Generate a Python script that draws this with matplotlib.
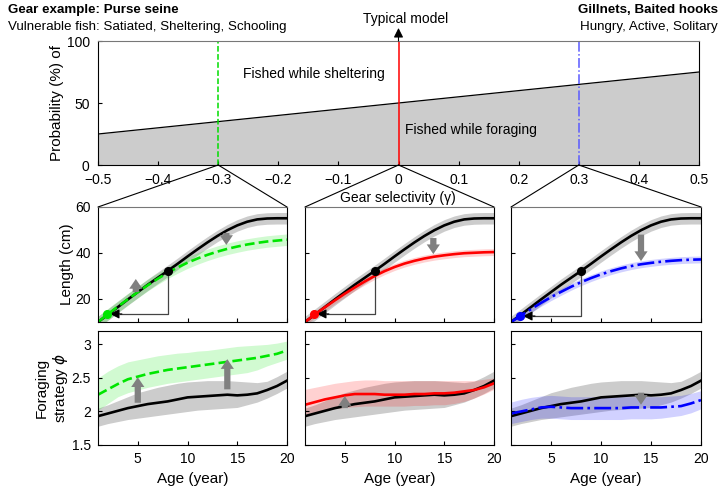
import matplotlib
matplotlib.use('Agg')
import matplotlib.pyplot as plt
from matplotlib.patches import ConnectionPatch
import numpy as np

plt.rcParams['font.family'] = ['Liberation Sans', 'DejaVu Sans']
plt.rcParams['font.size'] = 10
plt.rcParams['xtick.direction'] = 'in'
plt.rcParams['ytick.direction'] = 'in'
plt.rcParams['xtick.major.size'] = 3
plt.rcParams['ytick.major.size'] = 3
plt.rcParams['axes.linewidth'] = 0.8

# top panel: probability of being fished while foraging vs gear selectivity
gamma = [-0.5, 0.5]
p_forage = [25, 75]
gamma_ticks = [-0.5, -0.4, -0.3, -0.2, -0.1, 0, 0.1, 0.2, 0.3, 0.4, 0.5]
gamma_labels = ['\u22120.5', '\u22120.4', '\u22120.3', '\u22120.2', '\u22120.1', '0',
                '0.1', '0.2', '0.3', '0.4', '0.5']
gear_gammas = [-0.3, 0, 0.3]

# age axis for the growth / foraging panels
ages = list(range(1, 21))

# length-at-age (cm)
len_typical = [10, 13.2, 16.5, 19.8, 23, 26.2, 29.2, 32.2, 35.3, 38.5,
               41.6, 44.6, 47.4, 49.9, 52, 53.6, 54.6, 55, 55.1, 55.1]
len_seine = [10, 13.4, 16.7, 19.9, 23, 26, 28.8, 31.4, 33.7, 35.8,
             37.6, 39.2, 40.6, 41.8, 42.8, 43.7, 44.4, 45, 45.4, 45.8]
len_neutral = [10, 13.3, 16.4, 19.4, 22.3, 25, 27.6, 30, 32.1, 33.9,
               35.4, 36.6, 37.6, 38.4, 39, 39.5, 39.9, 40.1, 40.3, 40.4]
len_hooks = [10, 12.8, 15.6, 18.3, 20.8, 23.1, 25.3, 27.3, 29.1, 30.7,
             32.1, 33.3, 34.3, 35.1, 35.7, 36.2, 36.6, 36.9, 37.1, 37.2]
len_sd = [2.5, 2.5, 1.5, 1.5]

# foraging strategy phi
phi_typical = [1.93, 1.97, 2.01, 2.05, 2.08, 2.11, 2.13, 2.15, 2.18, 2.21,
               2.22, 2.23, 2.24, 2.25, 2.24, 2.25, 2.27, 2.32, 2.38, 2.46]
phi_typical_hi = [2.05, 2.1, 2.16, 2.22, 2.28, 2.32, 2.36, 2.39, 2.42, 2.44,
                  2.45, 2.46, 2.46, 2.46, 2.45, 2.44, 2.43, 2.45, 2.52, 2.6]
phi_typical_lo = [1.78, 1.82, 1.85, 1.88, 1.9, 1.92, 1.94, 1.96, 1.98, 2.0,
                  2.02, 2.03, 2.04, 2.05, 2.06, 2.1, 2.14, 2.2, 2.27, 2.35]
phi_seine = [2.25, 2.33, 2.41, 2.48, 2.52, 2.56, 2.59, 2.62, 2.64, 2.66,
             2.68, 2.7, 2.72, 2.74, 2.76, 2.78, 2.8, 2.83, 2.86, 2.91]
phi_seine_hi = [2.5, 2.6, 2.68, 2.74, 2.77, 2.8, 2.83, 2.85, 2.87, 2.88,
                2.9, 2.91, 2.93, 2.95, 2.97, 2.98, 2.99, 3.0, 3.02, 3.05]
phi_seine_lo = [2.02, 2.12, 2.22, 2.28, 2.32, 2.36, 2.39, 2.42, 2.44, 2.46,
                2.48, 2.5, 2.52, 2.54, 2.56, 2.58, 2.62, 2.68, 2.73, 2.78]
phi_neutral = [2.1, 2.14, 2.18, 2.21, 2.24, 2.26, 2.26, 2.26, 2.25, 2.25,
               2.25, 2.26, 2.26, 2.27, 2.27, 2.28, 2.3, 2.32, 2.36, 2.42]
phi_neutral_hi = [2.33, 2.36, 2.39, 2.42, 2.44, 2.46, 2.47, 2.47, 2.46, 2.46,
                  2.46, 2.46, 2.46, 2.46, 2.46, 2.46, 2.46, 2.46, 2.48, 2.5]
phi_neutral_lo = [1.96, 1.99, 2.02, 2.04, 2.06, 2.07, 2.08, 2.08, 2.08, 2.08,
                  2.08, 2.09, 2.09, 2.1, 2.1, 2.12, 2.15, 2.2, 2.26, 2.33]
phi_hooks = [1.97, 2.0, 2.03, 2.06, 2.07, 2.06, 2.05, 2.05, 2.05, 2.05,
             2.05, 2.05, 2.06, 2.06, 2.06, 2.06, 2.07, 2.08, 2.12, 2.17]
phi_hooks_hi = [2.14, 2.18, 2.21, 2.23, 2.24, 2.23, 2.22, 2.22, 2.22, 2.22,
                2.22, 2.22, 2.22, 2.22, 2.22, 2.22, 2.23, 2.24, 2.27, 2.31]
phi_hooks_lo = [1.82, 1.85, 1.88, 1.9, 1.9, 1.89, 1.88, 1.88, 1.88, 1.88,
                1.88, 1.88, 1.89, 1.89, 1.89, 1.9, 1.92, 1.94, 1.98, 2.04]

# where the fat gray arrows go: (age, from, to)
len_arrows = [[(4.8, 23, 28.7), (13.9, 48.7, 43.5)],
              [(13.9, 46.5, 39.5)],
              [(14, 48, 36.5)]]
phi_arrows = [[(5, 2.13, 2.51), (14, 2.33, 2.78)],
              [(5, 2.05, 2.23)],
              [(14, 2.28, 2.1)]]
# maturation marker: age and length of typical model, and of each gear
mat_typical = (8, 32.2)
mat_gear = [(1.9, 13.5), (1.9, 13.5), (1.9, 12.6)]

colors = ['#00e600', '#ff0000', '#0000ff']
styles = ['--', '-', '-.']
top_colors = ['#00dd00', '#ff0000', '#5a5aff']
gear_len = [len_seine, len_neutral, len_hooks]
gear_phi = [phi_seine, phi_neutral, phi_hooks]
gear_phi_hi = [phi_seine_hi, phi_neutral_hi, phi_hooks_hi]
gear_phi_lo = [phi_seine_lo, phi_neutral_lo, phi_hooks_lo]

W, H = 720, 492
fig = plt.figure(figsize=(7.2, 4.92), dpi=100)


def box(x0, y0, x1, y1):
    return [x0 / W, 1 - y1 / H, (x1 - x0) / W, (y1 - y0) / H]


arrow_gray = dict(width=4.5, headwidth=9.5, headlength=7, color='#808080', lw=0)

ax_top = fig.add_axes(box(98, 41, 699, 165))
ax_top.fill_between(gamma, 0, p_forage, color='#cccccc', lw=0)
ax_top.plot(gamma, p_forage, color='k', lw=0.9)
for g, c, s in zip(gear_gammas, top_colors, styles):
    ax_top.plot([g, g], [0, 100], color=c, ls=s, lw=1.1)
ax_top.set_xlim(-0.5, 0.5)
ax_top.set_ylim(0, 100)
ax_top.set_xticks(gamma_ticks)
ax_top.set_xticklabels(gamma_labels)
ax_top.set_yticks([0, 50, 100])
ax_top.tick_params(labelsize=10, pad=6)
ax_top.text(-0.14, 73, 'Fished while sheltering', ha='center', va='center', fontsize=10)
ax_top.text(0.12, 28, 'Fished while foraging', ha='center', va='center', fontsize=10)
ax_top.set_ylabel('Probability (%) of', fontsize=11, labelpad=2)
ax_top.annotate('', xy=(0, 110.5), xytext=(0, 100),
                arrowprops=dict(arrowstyle='-|>', color='k', mutation_scale=14, lw=0.8,
                                shrinkA=0, shrinkB=0),
                annotation_clip=False)
ax_top.text(0.012, 112.5, 'Typical model', ha='center', va='bottom', fontsize=10)
ax_top.spines['top'].set_color('#777777')

fig.text(8 / W, 1 - 10 / H, 'Gear example: Purse seine', fontweight='bold', fontsize=9.6, va='center')
fig.text(8 / W, 1 - 27 / H, 'Vulnerable fish: Satiated, Sheltering, Schooling', fontsize=9.6, va='center')
fig.text(718 / W, 1 - 10 / H, 'Gillnets, Baited hooks', fontweight='bold', fontsize=9.6,
         va='center', ha='right')
fig.text(718 / W, 1 - 27 / H, 'Hungry, Active, Solitary', fontsize=9.6, va='center', ha='right')
fig.text(398 / W, 1 - 198 / H, 'Gear selectivity (\u03b3)', ha='center', va='center', fontsize=10)

cols = [(98, 287), (305, 494), (511, 701)]
for i, (x0, x1) in enumerate(cols):
    ax_l = fig.add_axes(box(x0, 207, x1, 322))
    ax_f = fig.add_axes(box(x0, 331, x1, 445))
    c, s = colors[i], styles[i]

    # length panel
    lt = np.array(len_typical)
    lg = np.array(gear_len[i])
    ax_l.fill_between(ages, lt - len_sd[0], lt + len_sd[0], color='#cccccc', lw=0)
    ax_l.fill_between(ages, lg - len_sd[i + 1], lg + len_sd[i + 1], color=c, alpha=0.18, lw=0)
    ax_l.plot([mat_typical[0], mat_typical[0], 3.2], [mat_typical[1], mat_gear[i][1], mat_gear[i][1]],
              color='#444444', lw=0.9)
    ax_l.annotate('', xy=(2.2, mat_gear[i][1]), xytext=(3.4, mat_gear[i][1]),
                  arrowprops=dict(arrowstyle='-|>', color='k', mutation_scale=14, lw=0.8,
                                  shrinkA=0, shrinkB=0))
    ax_l.plot(ages, len_typical, color='k', lw=1.9)
    ax_l.plot(ages, gear_len[i], color=c, ls=s, lw=1.9)
    ax_l.plot(*mat_typical, 'o', color='k', ms=5.5)
    ax_l.plot(*mat_gear[i], 'o', color=c, ms=5.5, clip_on=False, zorder=5)
    for a, y0, y1 in len_arrows[i]:
        ax_l.annotate('', xy=(a, y1), xytext=(a, y0), arrowprops=arrow_gray)
    ax_l.set_xlim(1, 20)
    ax_l.set_ylim(10, 60)
    ax_l.set_xticks([5, 10, 15, 20])
    ax_l.set_xticklabels([])
    ax_l.set_yticks([20, 40, 60])
    ax_l.spines['top'].set_color('#777777')

    # foraging strategy panel
    ax_f.fill_between(ages, phi_typical_lo, phi_typical_hi, color='#cccccc', lw=0)
    ax_f.fill_between(ages, gear_phi_lo[i], gear_phi_hi[i], color=c, alpha=0.18, lw=0)
    ax_f.plot(ages, phi_typical, color='k', lw=1.9)
    ax_f.plot(ages, gear_phi[i], color=c, ls=s, lw=1.9)
    for a, y0, y1 in phi_arrows[i]:
        ax_f.annotate('', xy=(a, y1), xytext=(a, y0), arrowprops=arrow_gray)
    ax_f.set_xlim(1, 20)
    ax_f.set_ylim(1.5, 3.2)
    ax_f.set_xticks([5, 10, 15, 20])
    ax_f.set_yticks([1.5, 2, 2.5, 3])
    ax_f.set_yticklabels(['1.5', '2', '2.5', '3'])
    ax_f.tick_params(labelsize=10, pad=5)
    ax_l.tick_params(labelsize=10, pad=5)
    ax_f.set_xlabel('Age (year)', fontsize=11)
    if i == 0:
        ax_l.set_ylabel('Length (cm)', fontsize=11, labelpad=1)
        ax_f.set_ylabel('Foraging\nstrategy $\\phi$', fontsize=11, labelpad=1)
    else:
        ax_l.set_yticklabels([])
        ax_f.set_yticklabels([])

    # zoom lines from the selectivity axis to the panel corners
    for xf in (0, 1):
        con = ConnectionPatch(xyA=(gear_gammas[i], 0), coordsA=ax_top.transData,
                              xyB=(xf, 1), coordsB=ax_l.transAxes, color='k', lw=0.8)
        fig.add_artist(con)

fig.savefig('out.png', dpi=100)
